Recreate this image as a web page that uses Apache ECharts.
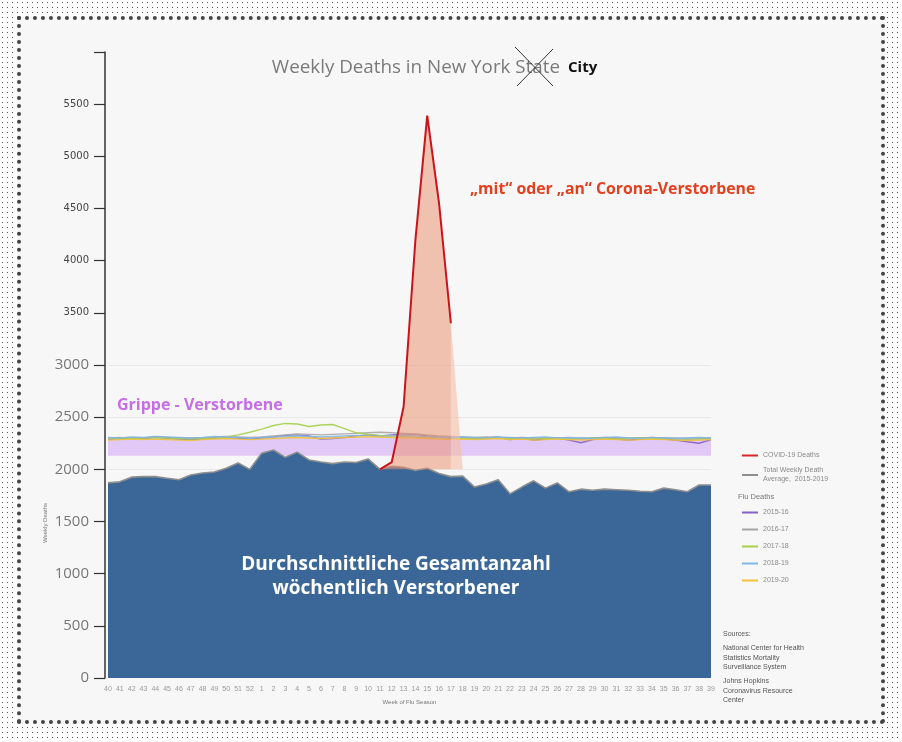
<!DOCTYPE html>
<html>
<head>
<meta charset="utf-8">
<title>Weekly Deaths in New York City</title>
<script src="https://cdn.jsdelivr.net/npm/echarts@6/dist/echarts.min.js"></script>
<style>
  html, body { margin: 0; padding: 0; }
  body {
    width: 902px; height: 742px; position: relative; overflow: hidden;
    background: #fff radial-gradient(#555 0.7px, transparent 1px) 0 0 / 5px 5px;
  }
  #frame {
    position: absolute; left: 17px; top: 16px; width: 860px; height: 700px;
    background: #f7f7f7; border: 4px dotted #444;
  }
  #chart { position: absolute; left: 0; top: 0; width: 902px; height: 742px; }
</style>
</head>
<body>
<div id="frame"></div>
<div id="chart"></div>
<script>
// week of flu season, 40 .. 52 then 1 .. 39
const weeks = [
  '40', '41', '42', '43', '44', '45', '46', '47', '48', '49', '50', '51', '52',
  '1', '2', '3', '4', '5', '6', '7', '8', '9', '10', '11', '12', '13',
  '14', '15', '16', '17', '18', '19', '20', '21', '22', '23', '24', '25', '26',
  '27', '28', '29', '30', '31', '32', '33', '34', '35', '36', '37', '38', '39'
];

const totalWeeklyDeaths = [
  1870, 1880, 1925, 1930, 1930, 1915, 1900, 1945, 1965, 1975, 2010, 2060, 2000,
  2155, 2185, 2115, 2165, 2090, 2070, 2055, 2070, 2065, 2100, 2000, 2030, 2020,
  1990, 2010, 1960, 1930, 1935, 1830, 1860, 1900, 1765, 1830, 1890, 1820, 1870,
  1785, 1810, 1800, 1810, 1805, 1800, 1790, 1785, 1820, 1805, 1785, 1850, 1850
];

const covidDeaths = [
  null, null, null, null, null, null, null, null, null, null, null, null, null,
  null, null, null, null, null, null, null, null, null, null, 2000, 2070, 2600,
  4200, 5390, 4550, 3400, null, null, null, null, null, null, null, null, null,
  null, null, null, null, null, null, null, null, null, null, null, null, null
];

// lighter wedge after the last covid point
const covidTail = [
  null, null, null, null, null, null, null, null, null, null, null, null, null,
  null, null, null, null, null, null, null, null, null, null, null, null, null,
  null, null, null, 3400, 2000, null, null, null, null, null, null, null, null,
  null, null, null, null, null, null, null, null, null, null, null, null, null
];

const flu1516 = [
  2290, 2295, 2300, 2295, 2310, 2300, 2290, 2285, 2290, 2300, 2305, 2300, 2290,
  2300, 2310, 2325, 2330, 2320, 2290, 2295, 2305, 2320, 2330, 2320, 2330, 2340,
  2335, 2320, 2310, 2300, 2305, 2290, 2300, 2310, 2285, 2300, 2280, 2290, 2300,
  2280, 2255, 2285, 2300, 2290, 2280, 2290, 2300, 2290, 2280, 2265, 2250, 2285
];
const flu1617 = [
  2300, 2305, 2295, 2300, 2310, 2305, 2300, 2295, 2300, 2310, 2315, 2310, 2305,
  2310, 2320, 2330, 2340, 2335, 2330, 2335, 2340, 2345, 2350, 2355, 2350, 2345,
  2340, 2330, 2320, 2315, 2310, 2305, 2310, 2305, 2300, 2305, 2300, 2295, 2300,
  2295, 2290, 2300, 2305, 2300, 2295, 2300, 2305, 2300, 2295, 2290, 2295, 2300
];
const flu1718 = [
  2295, 2300, 2295, 2300, 2305, 2300, 2295, 2290, 2295, 2300, 2310, 2330, 2355,
  2385, 2420, 2440, 2435, 2410, 2425, 2430, 2390, 2350, 2335, 2325, 2320, 2315,
  2310, 2305, 2300, 2300, 2295, 2300, 2295, 2300, 2295, 2290, 2295, 2300, 2295,
  2290, 2295, 2300, 2295, 2290, 2295, 2300, 2295, 2290, 2295, 2290, 2295, 2290
];
const flu1819 = [
  2305, 2300, 2310, 2305, 2315, 2310, 2305, 2300, 2305, 2315, 2310, 2305, 2300,
  2305, 2310, 2315, 2320, 2315, 2310, 2315, 2320, 2325, 2320, 2315, 2320, 2325,
  2320, 2315, 2310, 2305, 2310, 2305, 2300, 2310, 2305, 2300, 2305, 2310, 2300,
  2305, 2300, 2295, 2305, 2310, 2300, 2295, 2305, 2300, 2295, 2300, 2305, 2300
];
const flu1920 = [
  2280, 2285, 2290, 2285, 2290, 2285, 2280, 2275, 2285, 2290, 2295, 2290, 2285,
  2290, 2295, 2300, 2305, 2300, 2295, 2300, 2305, 2310, 2315, 2310, 2305, 2300,
  2300, 2295, 2290, 2285, 2290, 2285, 2290, 2295, 2285, 2290, 2280, 2285, 2290,
  2285, 2280, 2285, 2290, 2285, 2280, 2285, 2290, 2285, 2280, 2275, 2280, 2285
];

// shaded "flu" band drawn behind everything
const fluBand = [2130, 2310];

const chart = echarts.init(document.getElementById('chart'));

const fluLine = (name, data, color) => ({
  name,
  type: 'line',
  data,
  symbol: 'none',
  z: 3,
  lineStyle: { color, width: 1.4, opacity: 0.9 },
  itemStyle: { color }
});

const smallText = { fontFamily: 'Liberation Sans', fontSize: 7, color: '#8a8a8a', lineHeight: 9 };

const option = {
  backgroundColor: 'transparent',
  animation: false,
  grid: { left: 108, right: 191, top: 52, bottom: 64 },
  legend: [
    {
      data: ['COVID-19 Deaths', 'Total Weekly Death Average, 2015-2019'],
      orient: 'vertical',
      left: 737,
      top: 446,
      icon: 'rect',
      itemWidth: 16,
      itemHeight: 2,
      itemGap: 6,
      selectedMode: false,
      textStyle: smallText,
      formatter: n => (n.indexOf('Total') === 0 ? 'Total Weekly Death\nAverage,  2015-2019' : n)
    },
    {
      data: ['2015-16', '2016-17', '2017-18', '2018-19', '2019-20'],
      orient: 'vertical',
      left: 737,
      top: 503,
      icon: 'rect',
      itemWidth: 16,
      itemHeight: 2,
      itemGap: 8,
      selectedMode: false,
      textStyle: smallText
    }
  ],
  xAxis: {
    type: 'category',
    data: weeks,
    boundaryGap: false,
    axisLine: { show: false },
    axisTick: { show: false },
    splitLine: { show: false },
    axisLabel: { interval: 0, fontSize: 7, color: '#9a9a9a', margin: 8, fontFamily: 'Liberation Sans' },
    name: 'Week of Flu Season',
    nameLocation: 'middle',
    nameGap: 21,
    nameTextStyle: { fontSize: 6, color: '#777', fontFamily: 'Liberation Sans' }
  },
  yAxis: {
    type: 'value',
    min: 0,
    max: 6000,
    interval: 500,
    offset: 3,
    axisLine: { show: true, lineStyle: { color: '#333', width: 1.5 } },
    axisTick: { show: true, length: 11, lineStyle: { color: '#333', width: 1.2 } },
    splitLine: {
      lineStyle: {
        color: ['transparent', '#e9e9e9', '#e9e9e9', '#e9e9e9', '#e9e9e9', '#e9e9e9', '#e9e9e9',
          'transparent', 'transparent', 'transparent', 'transparent', 'transparent', 'transparent']
      }
    },
    axisLabel: {
      margin: 16,
      formatter: v => (v === 6000 ? '' : v > 3000 ? '{s|' + v + '}' : '{b|' + v + '}'),
      rich: {
        s: { fontFamily: 'DejaVu Sans', fontSize: 10, color: '#444' },
        b: { fontFamily: 'Open Sans', fontSize: 15, color: '#777' }
      }
    }
  },
  series: [
    {
      name: 'Total Weekly Death Average, 2015-2019',
      type: 'line',
      data: totalWeeklyDeaths,
      symbol: 'none',
      z: 2,
      lineStyle: { color: '#8e8e8e', width: 1.6 },
      itemStyle: { color: '#8e8e8e' },
      areaStyle: { color: '#3b6798', opacity: 1 }
    },
    {
      name: 'covid tail',
      type: 'line',
      data: covidTail,
      symbol: 'none',
      z: 4,
      lineStyle: { width: 0 },
      areaStyle: { color: 'rgba(247,190,165,0.85)', origin: 2000 }
    },
    Object.assign(fluLine('2015-16', flu1516, '#8560c8'), {
      markArea: {
        silent: true,
        itemStyle: { color: '#e2c8f6' },
        data: [[{ yAxis: fluBand[0] }, { yAxis: fluBand[1] }]]
      }
    }),
    fluLine('2016-17', flu1617, '#a5a5a5'),
    fluLine('2017-18', flu1718, '#a6cf4a'),
    fluLine('2018-19', flu1819, '#82b6e2'),
    fluLine('2019-20', flu1920, '#efc43a'),
    {
      name: 'COVID-19 Deaths',
      type: 'line',
      data: covidDeaths,
      symbol: 'none',
      z: 5,
      lineStyle: { color: '#c8141a', width: 2 },
      itemStyle: { color: '#d9262b' },
      areaStyle: { color: 'rgba(236,144,112,0.75)', origin: 2000 }
    }
  ],
  graphic: [
    {
      type: 'text', x: 560, y: 68, z: 10,
      style: { text: 'Weekly Deaths in New York State', fill: '#7a7a7a', font: '18.8px "Open Sans"', align: 'right', verticalAlign: 'middle' }
    },
    {
      type: 'text', x: 568, y: 68, z: 10,
      style: { text: 'City', fill: '#111', font: 'bold 15px "Open Sans"', align: 'left', verticalAlign: 'middle' }
    },
    { type: 'line', z: 11, shape: { x1: 515, y1: 47, x2: 553, y2: 86 }, style: { stroke: '#333', lineWidth: 1 } },
    { type: 'line', z: 11, shape: { x1: 553, y1: 49, x2: 517, y2: 86 }, style: { stroke: '#333', lineWidth: 1 } },
    {
      type: 'text', x: 470, y: 189, z: 10,
      style: { text: '„mit“ oder „an“ Corona-Verstorbene', fill: '#e2401e', font: 'bold 15.8px "Open Sans"', align: 'left', verticalAlign: 'middle' }
    },
    {
      type: 'text', x: 117, y: 405, z: 10,
      style: { text: 'Grippe - Verstorbene', fill: '#c66ee6', font: 'bold 16px "Open Sans"', align: 'left', verticalAlign: 'middle' }
    },
    {
      type: 'text', x: 396, y: 577, z: 10,
      style: {
        text: 'Durchschnittliche Gesamtanzahl\nwöchentlich Verstorbener',
        fill: '#fff', font: 'bold 19px "Open Sans"', lineHeight: 24, align: 'center', verticalAlign: 'middle'
      }
    },
    {
      type: 'text', x: 45, y: 523, rotation: Math.PI / 2, z: 10,
      style: { text: 'Weekly Deaths', fill: '#777', font: '6px "Liberation Sans"', align: 'center', verticalAlign: 'middle' }
    },
    {
      type: 'text', x: 738, y: 497, z: 10,
      style: { text: 'Flu Deaths', fill: '#777', font: '7.5px "Liberation Sans"', align: 'left', verticalAlign: 'middle' }
    },
    {
      type: 'text', x: 723, y: 634, z: 10,
      style: { text: 'Sources:', fill: '#555', font: '7px "Liberation Sans"', align: 'left', verticalAlign: 'middle' }
    },
    {
      type: 'text', x: 723, y: 658, z: 10,
      style: {
        text: 'National Center for Health\nStatistics Mortality\nSurveillance System',
        fill: '#555', font: '7px "Liberation Sans"', lineHeight: 9.5, align: 'left', verticalAlign: 'middle'
      }
    },
    {
      type: 'text', x: 723, y: 691, z: 10,
      style: {
        text: 'Johns Hopkins\nCoronavirus Resource\nCenter',
        fill: '#555', font: '7px "Liberation Sans"', lineHeight: 9.5, align: 'left', verticalAlign: 'middle'
      }
    }
  ]
};

chart.setOption(option);
</script>
</body>
</html>
